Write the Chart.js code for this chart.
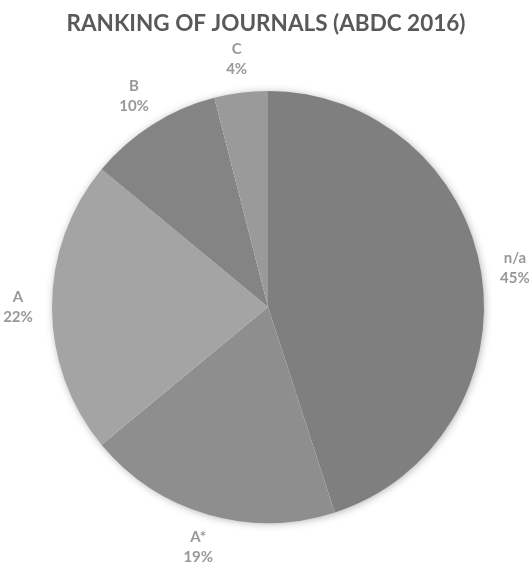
<!DOCTYPE html>
<html>
<head>
<meta charset="utf-8">
<script src="https://cdn.jsdelivr.net/npm/chart.js@4.4.1/dist/chart.umd.min.js"></script>
<style>
  html, body { margin: 0; padding: 0; background: #fff; }
  #wrap { width: 529px; height: 567px; }
</style>
</head>
<body>
<div id="wrap"><canvas id="myChart" width="529" height="567"></canvas></div>
<script>
var chartTitle = "RANKING OF JOURNALS (ABDC 2016)";
var categories = ["n/a", "A*", "A", "B", "C"];
var shares = [45, 19, 22, 10, 4];
var sliceColors = ["#7f7f7f", "#8e8e8e", "#a4a4a4", "#848484", "#9a9a9a"];

// soft shadow behind the whole pie, drawn before the slices
var pieShadow = {
    id: 'pieShadow',
    beforeDatasetsDraw: function (chart) {
        var arc = chart.getDatasetMeta(0).data[0];
        if (!arc) return;
        var ctx = chart.ctx;
        ctx.save();
        ctx.shadowColor = 'rgba(0,0,0,0.35)';
        ctx.shadowBlur = 9;
        ctx.shadowOffsetX = 1;
        ctx.shadowOffsetY = 1;
        ctx.fillStyle = '#ffffff';
        ctx.beginPath();
        ctx.arc(arc.x, arc.y, arc.outerRadius - 1, 0, Math.PI * 2);
        ctx.fill();
        ctx.restore();
    }
};

// title and outside-end labels like the spreadsheet original
var pieLabels = {
    id: 'pieLabels',
    afterDraw: function (chart) {
        var ctx = chart.ctx;
        ctx.save();
        ctx.fillStyle = '#595959';
        ctx.font = 'bold 22.5px Lato';
        ctx.textAlign = 'center';
        ctx.textBaseline = 'middle';
        ctx.fillText(chartTitle, 266, 24);

        ctx.fillStyle = '#989898';
        ctx.font = 'bold 15px Lato';
        chart.getDatasetMeta(0).data.forEach(function (arc, i) {
            var mid = (arc.startAngle + arc.endAngle) / 2;
            var d = arc.outerRadius + 34;
            var x = arc.x + Math.cos(mid) * d;
            var y = arc.y + Math.sin(mid) * d;
            ctx.fillText(categories[i], x, y - 10);
            ctx.fillText(shares[i] + '%', x, y + 10);
        });
        ctx.restore();
    }
};

var ctx = document.getElementById('myChart').getContext('2d');
var myChart = new Chart(ctx, {
    type: 'pie',
    data: {
        labels: categories,
        datasets: [{
            data: shares,
            backgroundColor: sliceColors,
            borderWidth: 0
        }]
    },
    options: {
        responsive: false,
        animation: false,
        layout: {
            padding: { top: 91, bottom: 44, left: 52, right: 45 }
        },
        plugins: {
            legend: { display: false },
            tooltip: { enabled: false },
            title: { display: false }
        }
    },
    plugins: [pieShadow, pieLabels]
});
</script>
</body>
</html>
